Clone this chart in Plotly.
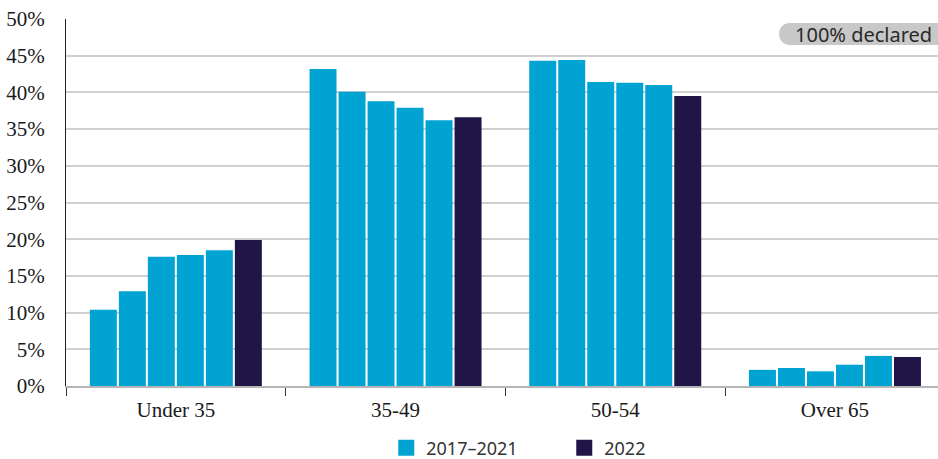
import plotly.graph_objects as go

categories = ["Under 35", "35-49", "50-54", "Over 65"]
years = ["2017", "2018", "2019", "2020", "2021", "2022"]
values = {
    "2017": [10.4, 43.2, 44.3, 2.2],
    "2018": [12.9, 40.1, 44.4, 2.45],
    "2019": [17.6, 38.8, 41.4, 2.0],
    "2020": [17.85, 37.9, 41.3, 2.9],
    "2021": [18.5, 36.2, 41.0, 4.1],
    "2022": [19.9, 36.6, 39.5, 3.95],
}
y_ticks = [0, 5, 10, 15, 20, 25, 30, 35, 40, 45, 50]
y_tick_labels = [f"{v}%" for v in y_ticks]
legend_names = ["2017\u20132021", "2022"]

LIGHT = "#00A3D1"
DARK = "#211447"

fig = go.Figure()
for yr in years:
    fig.add_trace(go.Bar(
        x=categories, y=values[yr], name=yr,
        marker=dict(color=DARK if yr == "2022" else LIGHT, line=dict(width=0)),
        showlegend=False, hoverinfo="skip",
    ))

for name, col in zip(legend_names, [LIGHT, DARK]):
    fig.add_trace(go.Scatter(
        x=[None], y=[None], mode="markers", name=name,
        marker=dict(symbol="square", size=17, color=col),
        showlegend=True,
    ))

W, H = 938, 459
L, R, T, B = 66, 0, 19, 73
pw = W - L - R
ph = H - T - B
cat_w = 219.7

def px_x(px):
    return (px - L) / pw

def px_y(py):
    return (H - B - py) / ph

x0, x1 = 779, 960
y0, y1 = 23, 45
r = (y1 - y0) / 2
path = (
    f"M {px_x(x0 + r)},{px_y(y0)} L {px_x(x1 - r)},{px_y(y0)} "
    f"C {px_x(x1)},{px_y(y0)} {px_x(x1)},{px_y(y1)} {px_x(x1 - r)},{px_y(y1)} "
    f"L {px_x(x0 + r)},{px_y(y1)} "
    f"C {px_x(x0 - r * 0.33)},{px_y(y1)} {px_x(x0 - r * 0.33)},{px_y(y0)} {px_x(x0 + r)},{px_y(y0)} Z"
)
fig.add_shape(type="path", path=path, xref="paper", yref="paper",
              fillcolor="#c8c8c8", line=dict(width=0), layer="above")
fig.add_annotation(text="100% declared", xref="paper", yref="paper",
                   x=px_x(793), y=px_y(34), xanchor="left", yanchor="middle",
                   showarrow=False,
                   font=dict(family="Noto Sans", size=20, color="#2a2a2a"))

fig.update_layout(
    width=W, height=H,
    margin=dict(l=L, r=R, t=T, b=B, pad=0, autoexpand=False),
    paper_bgcolor="white", plot_bgcolor="white",
    barmode="group", bargap=0.208, bargroupgap=0.07,
    showlegend=True,
    legend=dict(orientation="h", x=0.5714, xanchor="center",
                yref="container", y=(H - 448) / H, yanchor="middle",
                font=dict(family="Noto Sans", size=18, color="#333333"),
                entrywidth=133, itemsizing="trace"),
    xaxis=dict(
        range=[-0.5, -0.5 + pw / cat_w],
        showline=True, linecolor="#b5b5b5", linewidth=2,
        ticks="outside", tickson="boundaries", ticklen=8, tickwidth=1, tickcolor="#333333",
        showgrid=False, ticklabelstandoff=4,
        tickfont=dict(family="Liberation Serif", size=21, color="#1a1a1a"),
    ),
    yaxis=dict(
        range=[0, 50], tickvals=y_ticks, ticktext=y_tick_labels,
        showgrid=True, gridcolor="#d0d0d0", gridwidth=1.5,
        showline=True, linecolor="#222222", linewidth=1,
        zeroline=False, ticks="", ticklabelstandoff=16,
        tickfont=dict(family="Liberation Serif", size=21, color="#1a1a1a"),
    ),
)

fig.write_html("out.html")
